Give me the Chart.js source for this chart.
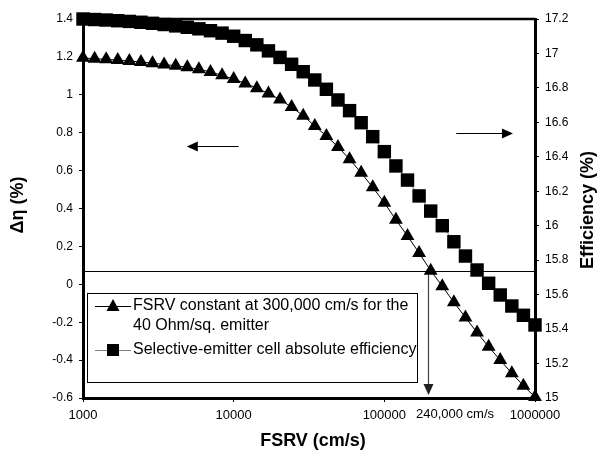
<!DOCTYPE html>
<html>
<head>
<meta charset="utf-8">
<script src="https://cdn.jsdelivr.net/npm/chart.js@4.4.0/dist/chart.umd.min.js"></script>
<style>
  html, body { margin: 0; padding: 0; background: #fff; }
  #wrap { width: 600px; height: 453px; }
</style>
</head>
<body>
<div id="wrap"><canvas id="fsrvChart" width="600" height="453"></canvas></div>
<script>
// FSRV sample points (cm/s), 13 per decade
const fsrv = [1000, 1194, 1425, 1701, 2031, 2424, 2894, 3455, 4125, 4924,
  5878, 7017, 8377, 10000, 11938, 14251, 17013, 20309, 24245, 28943,
  34551, 41246, 49239, 58780, 70170, 83768, 100000, 119378, 142510, 170125,
  203092, 242446, 289427, 345511, 412463, 492388, 587802, 701704, 837678, 1000000];

// delta eta (%) - left axis, triangles
const deltaEta = [1.195, 1.19, 1.187, 1.183, 1.178, 1.173, 1.167, 1.16, 1.153, 1.145,
  1.135, 1.12, 1.103, 1.083, 1.06, 1.035, 1.007, 0.975, 0.935, 0.89,
  0.835, 0.783, 0.725, 0.66, 0.588, 0.512, 0.43, 0.34, 0.255, 0.165,
  0.072, -0.01, -0.095, -0.175, -0.255, -0.33, -0.4, -0.47, -0.535, -0.595];

// selective-emitter efficiency (%) - right axis, squares
const efficiency = [17.2, 17.197, 17.194, 17.19, 17.186, 17.181, 17.175, 17.168, 17.16, 17.152,
  17.143, 17.132, 17.118, 17.1, 17.075, 17.05, 17.015, 16.977, 16.937, 16.894,
  16.846, 16.792, 16.73, 16.668, 16.598, 16.517, 16.43, 16.347, 16.265, 16.173,
  16.085, 16.0, 15.907, 15.824, 15.743, 15.666, 15.598, 15.534, 15.48, 15.424];

const xTicks = [1000, 10000, 100000, 1000000];
const legendLabels = [
  ['FSRV constant at 300,000 cm/s for the', '40 Ohm/sq. emitter'],
  ['Selective-emitter cell absolute efficiency']
];

// annotation positions (data units)
const crossLevel = 0.072;     // horizontal reference line on the left axis
const crossFsrv = 196000;     // vertical arrow position
const arrowLabel = '240,000 cm/s';

const FONT = "'Liberation Sans', Arial, sans-serif";

function arrowHead(ctx, x, y, dir, len, half) {
    ctx.beginPath();
    if (dir === 'left') {
        ctx.moveTo(x, y); ctx.lineTo(x + len, y - half); ctx.lineTo(x + len, y + half);
    } else if (dir === 'right') {
        ctx.moveTo(x, y); ctx.lineTo(x - len, y - half); ctx.lineTo(x - len, y + half);
    } else {
        ctx.moveTo(x, y); ctx.lineTo(x - half, y - len); ctx.lineTo(x + half, y - len);
    }
    ctx.closePath();
    ctx.fill();
}

const underlay = {
    id: 'underlay',
    beforeDatasetsDraw(chart) {
        const ctx = chart.ctx;
        const a = chart.chartArea;
        const x = chart.scales.x, yl = chart.scales.yL;
        ctx.save();
        // horizontal line at crossing level
        const yc = Math.round(yl.getPixelForValue(crossLevel)) + 0.5;
        ctx.strokeStyle = '#000';
        ctx.lineWidth = 1;
        ctx.beginPath();
        ctx.moveTo(a.left, yc);
        ctx.lineTo(a.right, yc);
        ctx.stroke();

        // vertical arrow down to axis
        const xv = Math.round(x.getPixelForValue(crossFsrv)) + 0.5;
        ctx.strokeStyle = '#404040';
        ctx.fillStyle = '#202020';
        ctx.lineWidth = 1.2;
        ctx.beginPath();
        ctx.moveTo(xv, yc);
        ctx.lineTo(xv, a.bottom - 10);
        ctx.stroke();
        arrowHead(ctx, xv, a.bottom - 3, 'down', 11, 5);

        // axis direction arrows
        ctx.strokeStyle = '#000';
        ctx.fillStyle = '#000';
        ctx.lineWidth = 1.2;
        const yA = Math.round(yl.getPixelForValue(0.73)) + 0.5;
        const x1 = x.getPixelForValue(4885), x2 = x.getPixelForValue(10800);
        ctx.beginPath(); ctx.moveTo(x2, yA); ctx.lineTo(x1 + 8, yA); ctx.stroke();
        arrowHead(ctx, x1, yA, 'left', 11, 5);
        const yB = Math.round(yl.getPixelForValue(0.798)) + 0.5;
        const x3 = x.getPixelForValue(300000), x4 = x.getPixelForValue(714000);
        ctx.beginPath(); ctx.moveTo(x3, yB); ctx.lineTo(x4 - 8, yB); ctx.stroke();
        arrowHead(ctx, x4, yB, 'right', 11, 5);
        ctx.restore();
    }
};

const overlay = {
    id: 'overlay',
    afterDraw(chart) {
        const ctx = chart.ctx;
        const a = chart.chartArea;
        ctx.save();
        // top frame line
        ctx.strokeStyle = '#000';
        ctx.lineWidth = 2.5;
        ctx.beginPath();
        ctx.moveTo(a.left, a.top);
        ctx.lineTo(a.right, a.top);
        ctx.stroke();

        // legend box
        const bx = 87.5, by = 293.5, bw = 330, bh = 89;
        ctx.fillStyle = '#fff';
        ctx.fillRect(bx, by, bw, bh);
        ctx.lineWidth = 1;
        ctx.strokeRect(bx, by, bw, bh);

        ctx.font = '16px ' + FONT;
        ctx.textBaseline = 'middle';
        ctx.textAlign = 'left';
        ctx.fillStyle = '#000';
        // triangle entry
        ctx.beginPath(); ctx.moveTo(95, 306.5); ctx.lineTo(131, 306.5); ctx.stroke();
        ctx.beginPath();
        ctx.moveTo(113, 299); ctx.lineTo(119.5, 311); ctx.lineTo(106.5, 311); ctx.closePath(); ctx.fill();
        ctx.fillText(legendLabels[0][0], 133, 306);
        ctx.fillText(legendLabels[0][1], 133, 326);
        // square entry
        ctx.strokeStyle = '#808080';
        ctx.beginPath(); ctx.moveTo(95, 350.5); ctx.lineTo(131, 350.5); ctx.stroke();
        ctx.fillRect(107, 344, 12, 12);
        ctx.fillText(legendLabels[1][0], 133, 350);

        // crossing label
        ctx.font = '13px ' + FONT;
        ctx.textAlign = 'center';
        ctx.fillText(arrowLabel, 455, 414);

        // axis titles
        ctx.font = 'bold 18px ' + FONT;
        ctx.fillText('FSRV (cm/s)', 313, 441);
        ctx.save();
        ctx.translate(18, 205);
        ctx.rotate(-Math.PI / 2);
        ctx.fillText('\u0394\u03B7 (%)', 0, 0);
        ctx.restore();
        ctx.save();
        ctx.translate(588, 210);
        ctx.rotate(-Math.PI / 2);
        ctx.fillText('Efficiency (%)', 0, 0);
        ctx.restore();
        ctx.restore();
    }
};

const ctx = document.getElementById('fsrvChart');
new Chart(ctx.getContext('2d'), {
    type: 'line',
    data: {
        datasets: [{
            label: 'Selective-emitter cell absolute efficiency',
            data: fsrv.map((v, i) => ({ x: v, y: efficiency[i] })),
            yAxisID: 'yR',
            borderColor: '#808080',
            borderWidth: 1,
            pointStyle: 'rect',
            pointRadius: 9.5,
            pointBackgroundColor: '#000',
            pointBorderColor: '#000',
            pointBorderWidth: 0,
            clip: false,
            tension: 0
        }, {
            label: 'FSRV constant at 300,000 cm/s for the 40 Ohm/sq. emitter',
            data: fsrv.map((v, i) => ({ x: v, y: deltaEta[i] })),
            yAxisID: 'yL',
            borderColor: '#000',
            borderWidth: 1,
            pointStyle: 'triangle',
            pointRadius: 8,
            pointBackgroundColor: '#000',
            pointBorderColor: '#000',
            pointBorderWidth: 0,
            clip: false,
            tension: 0
        }]
    },
    options: {
        responsive: false,
        animation: false,
        devicePixelRatio: 1,
        layout: { padding: { top: 19, left: 0, right: 0, bottom: 0 } },
        plugins: { legend: { display: false }, tooltip: { enabled: false } },
        scales: {
            x: {
                type: 'logarithmic',
                min: 1000,
                max: 1000000,
                afterBuildTicks: axis => { axis.ticks = xTicks.map(v => ({ value: v })); },
                afterFit: axis => { axis.height = 55; },
                ticks: {
                    callback: v => String(v),
                    color: '#000',
                    font: { family: FONT, size: 13 },
                    padding: 6,
                    maxRotation: 0,
                    autoSkip: false
                },
                grid: { drawOnChartArea: false, drawTicks: true, tickLength: 4, color: '#000' },
                border: { display: true, color: '#000', width: 3 }
            },
            yL: {
                position: 'left',
                min: -0.6,
                max: 1.4,
                afterFit: axis => { axis.width = 83; },
                ticks: {
                    stepSize: 0.2,
                    callback: v => String(+v.toFixed(1)),
                    color: '#000',
                    font: { family: FONT, size: 12 },
                    padding: 6
                },
                grid: { drawOnChartArea: false, drawTicks: true, tickLength: 4, color: '#000' },
                border: { display: true, color: '#000', width: 3 }
            },
            yR: {
                position: 'right',
                min: 15,
                max: 17.2,
                afterFit: axis => { axis.width = 65; },
                ticks: {
                    stepSize: 0.2,
                    callback: v => String(+v.toFixed(1)),
                    color: '#000',
                    font: { family: FONT, size: 12 },
                    padding: 6
                },
                grid: { drawOnChartArea: false, drawTicks: true, tickLength: 4, color: '#000' },
                border: { display: true, color: '#000', width: 3 }
            }
        }
    },
    plugins: [underlay, overlay]
});
</script>
</body>
</html>
